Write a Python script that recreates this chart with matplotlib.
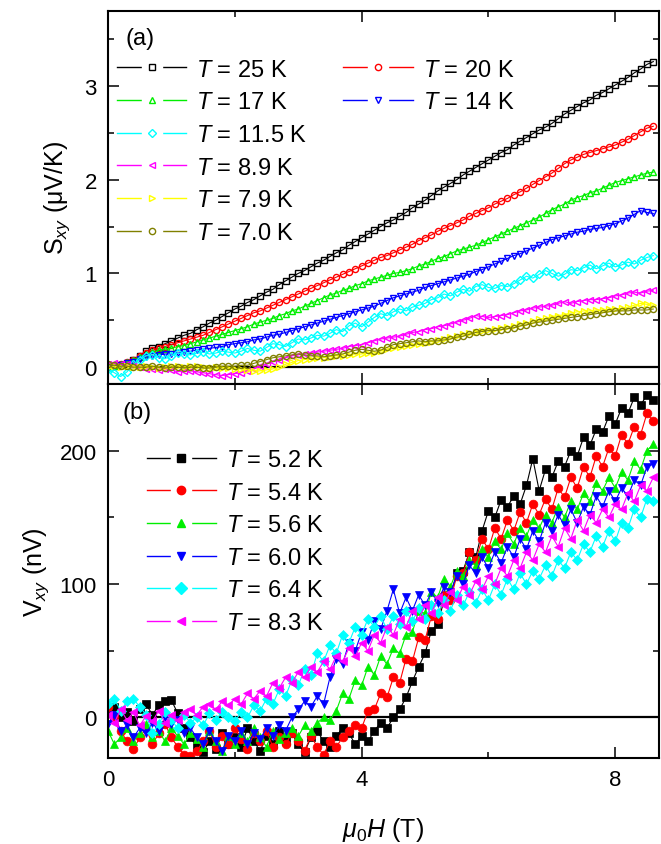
import numpy as np
import matplotlib
matplotlib.use('Agg')
import matplotlib.pyplot as plt
from matplotlib.lines import Line2D
from matplotlib.legend_handler import HandlerTuple
from matplotlib.ticker import MultipleLocator

plt.rcParams['font.family'] = ['Liberation Sans', 'DejaVu Sans']
plt.rcParams['mathtext.fontset'] = 'custom'
plt.rcParams['mathtext.rm'] = 'Liberation Sans'
plt.rcParams['mathtext.it'] = 'Liberation Sans:italic'
plt.rcParams['mathtext.bf'] = 'Liberation Sans:bold'

# magnetic field grid (T), readings every 0.1 T from 0 to 8.6
field = np.round(np.arange(0, 8.65, 0.1), 1)

# ---------------- panel (a): S_xy (uV/K) ----------------
temps_a = ['25', '20', '17', '14', '11.5', '8.9', '7.9', '7.0']
colors_a = ['#000000', '#ff0000', '#00ee00', '#0000ff', '#00ffff', '#ff00ff', '#ffff00', '#808000']
markers_a = ['s', 'o', '^', 'v', 'D', '<', '>', 'o']

s_25K = [0.00, 0.01, 0.02, 0.04, 0.08, 0.12, 0.17, 0.20, 0.22, 0.25,
         0.28, 0.31, 0.34, 0.36, 0.40, 0.43, 0.47, 0.50, 0.54, 0.58,
         0.62, 0.65, 0.69, 0.72, 0.76, 0.80, 0.83, 0.88, 0.92, 0.96,
         1.00, 1.03, 1.07, 1.11, 1.14, 1.18, 1.22, 1.25, 1.30, 1.34,
         1.38, 1.42, 1.46, 1.50, 1.54, 1.57, 1.61, 1.65, 1.70, 1.74,
         1.78, 1.83, 1.88, 1.92, 1.96, 2.00, 2.05, 2.09, 2.13, 2.17,
         2.21, 2.25, 2.29, 2.32, 2.37, 2.41, 2.45, 2.49, 2.53, 2.56,
         2.60, 2.65, 2.70, 2.74, 2.78, 2.82, 2.85, 2.90, 2.93, 2.97,
         3.01, 3.05, 3.09, 3.14, 3.18, 3.23, 3.26]
s_20K = [0.00, 0.01, 0.03, 0.05, 0.08, 0.12, 0.15, 0.18, 0.20, 0.22,
         0.24, 0.26, 0.28, 0.30, 0.32, 0.34, 0.37, 0.40, 0.43, 0.46,
         0.49, 0.52, 0.55, 0.58, 0.60, 0.63, 0.66, 0.69, 0.72, 0.75,
         0.78, 0.81, 0.84, 0.87, 0.90, 0.93, 0.96, 0.99, 1.02, 1.05,
         1.08, 1.11, 1.14, 1.17, 1.19, 1.22, 1.25, 1.28, 1.31, 1.35,
         1.38, 1.41, 1.45, 1.48, 1.51, 1.54, 1.57, 1.61, 1.64, 1.67,
         1.70, 1.74, 1.77, 1.80, 1.84, 1.87, 1.91, 1.95, 1.99, 2.03,
         2.07, 2.12, 2.17, 2.21, 2.24, 2.27, 2.29, 2.31, 2.33, 2.35,
         2.37, 2.40, 2.43, 2.47, 2.51, 2.55, 2.57]
s_17K = [0.00, 0.01, 0.03, 0.05, 0.08, 0.11, 0.14, 0.16, 0.18, 0.19,
         0.20, 0.22, 0.23, 0.25, 0.27, 0.29, 0.31, 0.33, 0.35, 0.37,
         0.39, 0.41, 0.43, 0.46, 0.48, 0.50, 0.52, 0.55, 0.57, 0.60,
         0.62, 0.65, 0.68, 0.71, 0.74, 0.77, 0.79, 0.82, 0.84, 0.87,
         0.89, 0.92, 0.94, 0.96, 0.98, 1.00, 1.01, 1.03, 1.05, 1.08,
         1.10, 1.13, 1.16, 1.18, 1.21, 1.24, 1.26, 1.28, 1.30, 1.33,
         1.36, 1.39, 1.42, 1.45, 1.48, 1.51, 1.54, 1.57, 1.60, 1.64,
         1.68, 1.71, 1.74, 1.78, 1.81, 1.83, 1.86, 1.88, 1.91, 1.94,
         1.97, 1.99, 2.01, 2.03, 2.05, 2.07, 2.08]
s_14K = [0.00, 0.01, 0.02, 0.04, 0.06, 0.09, 0.11, 0.12, 0.13, 0.14,
         0.14, 0.15, 0.16, 0.17, 0.18, 0.19, 0.20, 0.21, 0.22, 0.24,
         0.25, 0.26, 0.27, 0.29, 0.30, 0.32, 0.34, 0.35, 0.37, 0.39,
         0.41, 0.43, 0.45, 0.47, 0.49, 0.51, 0.53, 0.55, 0.57, 0.59,
         0.61, 0.63, 0.65, 0.68, 0.71, 0.74, 0.76, 0.78, 0.80, 0.82,
         0.85, 0.87, 0.89, 0.91, 0.93, 0.95, 0.97, 0.99, 1.02, 1.04,
         1.07, 1.10, 1.13, 1.16, 1.19, 1.21, 1.24, 1.27, 1.30, 1.33,
         1.36, 1.38, 1.40, 1.42, 1.44, 1.45, 1.47, 1.48, 1.49, 1.51,
         1.53, 1.56, 1.59, 1.63, 1.67, 1.65, 1.64]
s_11p5K = [-0.02, -0.06, -0.10, -0.05, 0.03, 0.08, 0.12, 0.13, 0.10, 0.09,
           0.12, 0.15, 0.14, 0.13, 0.15, 0.16, 0.14, 0.15, 0.17, 0.16,
           0.15, 0.17, 0.20, 0.18, 0.17, 0.21, 0.25, 0.24, 0.22, 0.26,
           0.30, 0.29, 0.31, 0.34, 0.33, 0.36, 0.40, 0.38, 0.44, 0.47,
           0.43, 0.48, 0.53, 0.57, 0.55, 0.59, 0.62, 0.60, 0.64, 0.66,
           0.68, 0.72, 0.74, 0.78, 0.76, 0.80, 0.83, 0.81, 0.86, 0.88,
           0.85, 0.84, 0.87, 0.86, 0.89, 0.93, 0.97, 0.95, 0.99, 1.03,
           1.00, 0.97, 0.99, 1.04, 1.03, 1.06, 1.09, 1.05, 1.08, 1.11,
           1.07, 1.09, 1.12, 1.10, 1.14, 1.17, 1.19]
s_8p9K = [0.03, 0.04, 0.03, 0.03, 0.01, 0.00, -0.02, -0.02, -0.03, -0.02,
          -0.03, -0.05, -0.04, -0.04, -0.05, -0.06, -0.07, -0.08, -0.09, -0.08,
          -0.07, -0.06, -0.04, -0.02, 0.01, 0.03, 0.06, 0.08, 0.10, 0.12,
          0.13, 0.14, 0.15, 0.16, 0.17, 0.18, 0.19, 0.20, 0.22, 0.23,
          0.24, 0.26, 0.28, 0.30, 0.31, 0.32, 0.33, 0.35, 0.37, 0.38,
          0.40, 0.41, 0.43, 0.44, 0.46, 0.48, 0.50, 0.52, 0.55, 0.54,
          0.53, 0.54, 0.55, 0.56, 0.58, 0.60, 0.61, 0.63, 0.64, 0.65,
          0.66, 0.68, 0.70, 0.68, 0.70, 0.71, 0.72, 0.72, 0.73, 0.74,
          0.76, 0.77, 0.79, 0.80, 0.79, 0.81, 0.82]
s_7p9K = [0.00, 0.01, 0.00, 0.01, 0.00, 0.00, 0.01, 0.00, -0.01, 0.00,
          0.01, 0.01, 0.00, 0.01, 0.01, 0.00, -0.01, 0.00, -0.01, -0.01,
          -0.02, -0.02, -0.03, -0.04, -0.04, -0.03, -0.02, 0.00, 0.03, 0.05,
          0.07, 0.08, 0.09, 0.10, 0.10, 0.11, 0.12, 0.12, 0.13, 0.14,
          0.14, 0.15, 0.15, 0.17, 0.19, 0.20, 0.21, 0.23, 0.24, 0.25,
          0.26, 0.27, 0.29, 0.30, 0.32, 0.33, 0.35, 0.36, 0.38, 0.39,
          0.40, 0.41, 0.42, 0.43, 0.44, 0.46, 0.47, 0.49, 0.51, 0.52,
          0.54, 0.55, 0.56, 0.58, 0.59, 0.60, 0.60, 0.61, 0.61, 0.62,
          0.62, 0.63, 0.64, 0.66, 0.68, 0.67, 0.66]
s_7p0K = [0.03, 0.02, 0.01, 0.01, 0.00, 0.00, 0.00, 0.01, 0.00, -0.01,
          0.00, 0.00, -0.01, 0.00, 0.00, -0.01, -0.01, 0.00, 0.01, 0.01,
          0.01, 0.02, 0.02, 0.04, 0.06, 0.08, 0.10, 0.11, 0.12, 0.13,
          0.14, 0.13, 0.12, 0.12, 0.11, 0.12, 0.13, 0.14, 0.16, 0.18,
          0.19, 0.18, 0.17, 0.18, 0.21, 0.24, 0.25, 0.26, 0.27, 0.28,
          0.27, 0.28, 0.28, 0.29, 0.30, 0.32, 0.33, 0.35, 0.37, 0.38,
          0.39, 0.39, 0.40, 0.41, 0.42, 0.44, 0.45, 0.47, 0.48, 0.49,
          0.50, 0.51, 0.52, 0.53, 0.54, 0.55, 0.56, 0.57, 0.58, 0.59,
          0.60, 0.60, 0.60, 0.61, 0.61, 0.61, 0.62]
series_a = [s_25K, s_20K, s_17K, s_14K, s_11p5K, s_8p9K, s_7p9K, s_7p0K]

# ---------------- panel (b): V_xy (nV) ----------------
temps_b = ['5.2', '5.4', '5.6', '6.0', '6.4', '8.3']
colors_b = ['#000000', '#ff0000', '#00ee00', '#0000ff', '#00ffff', '#ff00ff']
markers_b = ['s', 'o', '^', 'v', 'D', '<']

v_5p2K = [5, 8, 0, 4, -3, 6, 10, 2, 9, 12,
          13, 3, -8, -15, -22, -26, -18, -24, -12, -20,
          -15, -22, -8, -18, -25, -14, -20, -10, -18, -12,
          -20, -26, -15, -10, -18, -22, -14, -8, -12, -20,
          -14, -18, -10, -4, -8, 0, 6, 15, 27, 38,
          48, 65, 70, 88, 92, 108, 110, 124, 120, 140,
          155, 150, 163, 158, 166, 160, 174, 194, 170, 186,
          180, 192, 188, 200, 196, 210, 204, 216, 214, 226,
          220, 232, 228, 240, 234, 242, 238]
v_5p4K = [8, 0, -10, -18, -24, -15, -8, -20, -12, -5,
          -15, -22, -28, -29, -25, -18, -10, -22, -14, -20,
          -8, -16, -24, -12, -18, -10, -22, -15, -20, -12,
          -18, -25, -14, -22, -28, -18, -22, -15, -10, -6,
          -8, 5, 6, 18, 15, 30, 26, 44, 42, 60,
          58, 76, 74, 92, 88, 106, 108, 124, 118, 134,
          126, 142, 134, 148, 140, 154, 146, 160, 152, 164,
          156, 172, 165, 180, 172, 188, 180, 196, 188, 202,
          196, 212, 205, 218, 212, 228, 222]
v_5p6K = [-10, -20, -15, -8, -18, -12, -5, -15, -10, -18,
          -8, -14, -20, -12, -16, -22, -10, -18, -25, -14,
          -20, -12, -18, -8, -15, -22, -10, -16, -12, -8,
          -14, -6, -10, -4, 0, -2, 5, 18, 14, 28,
          24, 38, 32, 46, 40, 52, 48, 62, 64, 80,
          78, 94, 90, 104, 98, 110, 106, 118, 114, 126,
          120, 132, 126, 138, 130, 142, 136, 148, 142, 152,
          146, 158, 150, 162, 156, 168, 162, 176, 170, 180,
          172, 184, 178, 192, 186, 200, 205]
v_6p0K = [-5, 2, -10, -6, -15, -8, -12, -4, -10, 0,
          -5, -2, -12, -8, -15, -20, -10, -18, -25, -14,
          -18, -10, -20, -12, -16, -8, -14, -6, -10, 0,
          6, 12, 8, 16, 10, 30, 44, 40, 56, 50,
          64, 58, 72, 66, 80, 96, 78, 90, 80, 92,
          84, 94, 86, 98, 94, 106, 100, 114, 108, 120,
          112, 124, 116, 128, 120, 134, 126, 140, 132, 146,
          140, 152, 144, 156, 146, 158, 152, 166, 158, 170,
          162, 172, 166, 178, 174, 188, 190]
v_6p4K = [10, 14, 5, 12, 14, 8, 2, -12, -5, 4,
          -2, -8, 2, -4, 0, -6, 3, -2, 4, 0,
          -3, 4, 0, 9, 5, 14, 10, 21, 16, 28,
          24, 36, 32, 48, 42, 54, 48, 62, 56, 68,
          62, 74, 68, 76, 66, 76, 70, 80, 72, 82,
          74, 84, 78, 88, 80, 92, 84, 94, 86, 96,
          88, 100, 92, 104, 96, 108, 100, 110, 104, 114,
          106, 118, 112, 124, 118, 130, 124, 136, 128, 140,
          132, 146, 142, 156, 150, 164, 162]
v_8p3K = [2, -4, 6, -2, 4, -6, 1, -3, 5, -4,
          2, -2, 4, 6, 2, 8, 10, 6, 12, 9,
          14, 10, 18, 14, 20, 16, 26, 22, 30, 26,
          34, 30, 38, 34, 42, 36, 46, 42, 52, 46,
          56, 50, 62, 56, 68, 62, 74, 68, 80, 74,
          84, 78, 90, 84, 94, 88, 98, 92, 102, 96,
          106, 100, 112, 106, 118, 112, 124, 118, 130, 124,
          136, 128, 142, 134, 148, 140, 152, 146, 156, 150,
          160, 156, 168, 162, 174, 170, 180]
series_b = [v_5p2K, v_5p4K, v_5p6K, v_6p0K, v_6p4K, v_8p3K]

# ---------------- figure ----------------
W, H = 661, 845
fig = plt.figure(figsize=(W / 100, H / 100), dpi=100)
L, R = 108 / W, 659 / W
ax1 = fig.add_axes([L, 1 - 385 / H, R - L, (385 - 12) / H])
ax2 = fig.add_axes([L, 1 - 758.5 / H, R - L, (758.5 - 385) / H])

FS_TICK = 16
FS_LAB = 17
FS_AX = 18


def style_axis(ax):
    for sp in ax.spines.values():
        sp.set_linewidth(1.5)
    ax.tick_params(which='both', direction='in', top=True, right=True,
                   labelsize=FS_TICK, width=1.1, pad=8)
    ax.tick_params(which='major', length=8)
    ax.tick_params(which='minor', length=4.5)
    ax.xaxis.set_major_locator(MultipleLocator(4))
    ax.xaxis.set_minor_locator(MultipleLocator(2))
    ax.set_xlim(0, 8.69)
    ax.axhline(0, color='black', lw=1.6, zorder=1)


def legend_handle(color, marker, filled, ms):
    line = Line2D([], [], color=color, lw=1.0)
    mask = Line2D([], [], marker='s', ls='none', ms=15, mfc='white', mec='white')
    mk = Line2D([], [], marker=marker, ls='none', ms=ms,
                mfc=color if filled else 'white', mec=color, mew=1.0)
    return (line, mask, mk)


# panel (a)
style_axis(ax1)
ax1.set_ylim(-0.18, 3.8)
ax1.yaxis.set_major_locator(MultipleLocator(1))
ax1.yaxis.set_minor_locator(MultipleLocator(0.5))
ax1.tick_params(labelbottom=False)
for vals, c, m in zip(series_a, colors_a, markers_a):
    ms = 4.4 if m != 'D' else 4.0
    ax1.plot(field, vals, color=c, lw=0.8, marker=m, ms=ms, mfc='none',
             mec=c, mew=1.0, zorder=2)
ax1.set_ylabel(r'S$_{xy}$ (μV/K)', fontsize=FS_AX, labelpad=9)
ax1.text(0.031, 0.928, '(a)', transform=ax1.transAxes, fontsize=FS_LAB,
         ha='left', va='center')

hmap = {HandlerTuple: HandlerTuple(ndivide=None)}
labs_a = [r'$T$ = %s K' % t for t in temps_a]
hand_a = [legend_handle(c, m, False, 4.5) for c, m in zip(colors_a, markers_a)]
col1 = [0, 2, 4, 5, 6, 7]
col2 = [1, 3]
leg_kw = dict(handler_map=hmap, loc='upper left', frameon=False,
              fontsize=FS_LAB, handlelength=2.95, handletextpad=0.42,
              labelspacing=0.45, borderpad=0, borderaxespad=0)
leg1 = ax1.legend([hand_a[i] for i in col1], [labs_a[i] for i in col1],
                  bbox_to_anchor=(0.016, 0.872), **leg_kw)
ax1.add_artist(leg1)
ax1.legend([hand_a[i] for i in col2], [labs_a[i] for i in col2],
           bbox_to_anchor=(0.4265, 0.872), **leg_kw)

# panel (b)
style_axis(ax2)
ax2.set_ylim(-30, 250)
ax2.yaxis.set_major_locator(MultipleLocator(100))
ax2.yaxis.set_minor_locator(MultipleLocator(50))
for vals, c, m in zip(series_b, colors_b, markers_b):
    ms = 6.3 if m != 'D' else 5.6
    ax2.plot(field, vals, color=c, lw=0.8, marker=m, ms=ms, mfc=c,
             mec=c, mew=0.5, zorder=2)
ax2.set_ylabel(r'V$_{xy}$ (nV)', fontsize=FS_AX, labelpad=6)
ax2.set_xlabel(r'$\mu_0H$ (T)', fontsize=FS_AX, labelpad=18)
ax2.text(0.027, 0.925, '(b)', transform=ax2.transAxes, fontsize=FS_LAB,
         ha='left', va='center')
labs_b = [r'$T$ = %s K' % t for t in temps_b]
hand_b = [legend_handle(c, m, True, 6.0) for c, m in zip(colors_b, markers_b)]
leg_kw_b = dict(leg_kw)
leg_kw_b['handlelength'] = 2.9
ax2.legend(hand_b, labs_b, bbox_to_anchor=(0.071, 0.826), **leg_kw_b)

fig.savefig('out.png', dpi=100)
